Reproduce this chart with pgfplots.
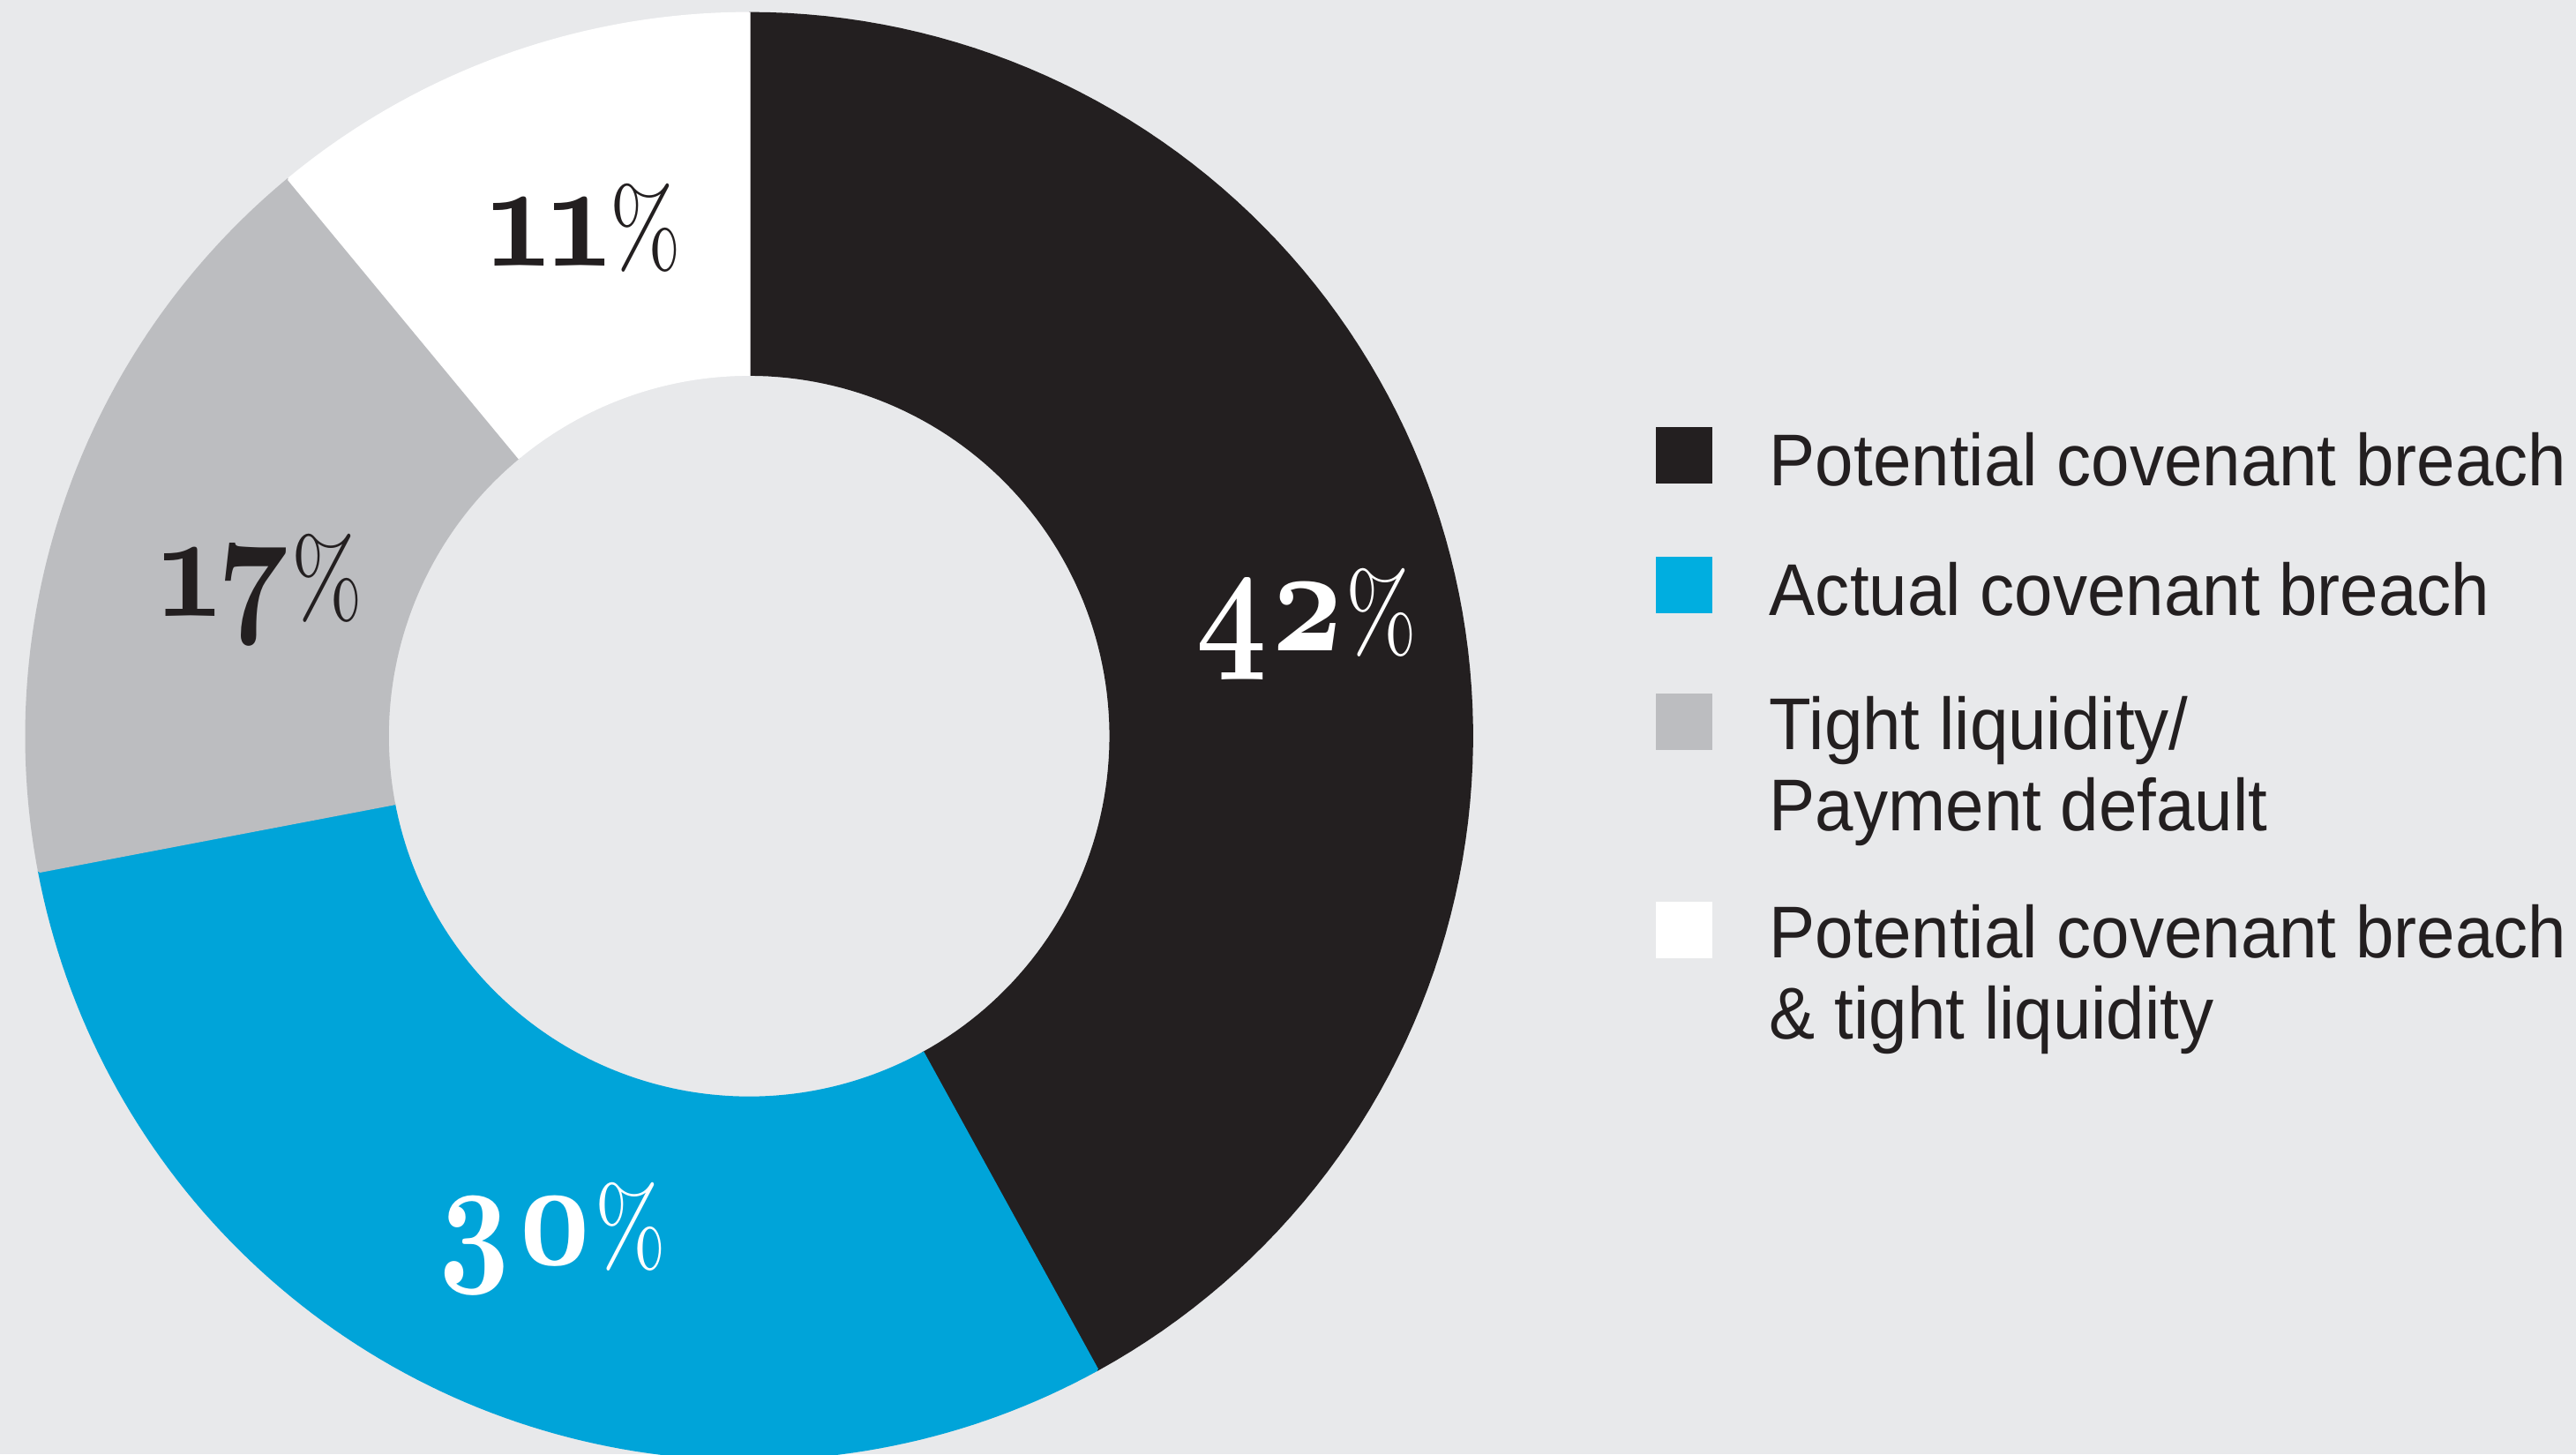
\documentclass[border=0pt]{standalone}
\usepackage{fontspec}
\setsansfont{Liberation Sans}[FakeStretch=0.94]
\newfontfamily\numfont{lmroman10-bold.otf}[Numbers=OldStyle, FakeStretch=0.82]
\newfontfamily\pctfont{lmroman10-regular.otf}[FakeStretch=0.78]
\usepackage{pgfplots}
\pgfplotsset{compat=1.18}

\definecolor{bg}{HTML}{E8E9EB}
\definecolor{ink}{HTML}{231F20}
\definecolor{cblue}{HTML}{00A4D9}
\definecolor{lblue}{HTML}{00AEE0}
\definecolor{cgray}{HTML}{BCBDC0}

% one ring segment: colour, share before it, share (per cent, clockwise from 12 o'clock)
\newcommand\ring[3]{%
  \pgfmathsetmacro\aS{90-3.6*#2}%
  \pgfmathsetmacro\aE{90-3.6*(#2+#3)}%
  \addplot[fill=#1, draw=#1, line width=0.4pt, samples at={0,1,...,202}, variable=\t, forget plot]
    ({456 + ((\t<101 || \t>201) ? 440 : 220)*cos((\t<101) ? (\aS+(\aE-\aS)*\t/100) : ((\t>201) ? \aS : (\aE-(\aE-\aS)*(\t-101)/100)))},
     {437 + ((\t<101 || \t>201) ? 440 : 220)*sin((\t<101) ? (\aS+(\aE-\aS)*\t/100) : ((\t>201) ? \aS : (\aE-(\aE-\aS)*(\t-101)/100)))});
}
\newcommand\pct[2]{{\numfont\fontsize{26}{26}\selectfont #1}{\pctfont\fontsize{19}{19}\selectfont #2}}

\begin{document}
\begin{tikzpicture}
\begin{axis}[
  width=15.68cm, height=8.85cm, scale only axis,
  xmin=0, xmax=1568, ymin=0, ymax=885,
  axis line style={draw=none}, ticks=none,
  axis background/.style={fill=bg},
  legend style={at={(axis cs:1007,626)}, anchor=north west, draw=none, fill=none,
    inner sep=0pt, row sep=0.38cm, column sep=0.35cm, text=ink,
    font={\sffamily\fontsize{12.7pt}{13.1pt}\selectfont},
    cells={anchor=west, align=left}, nodes={inner sep=0pt}},
]
\ring{ink}{0}{42}
\ring{cblue}{42}{30}
\ring{cgray}{72}{17}
\ring{white}{89}{11}

\addlegendimage{legend image code/.code={\fill[ink] (0cm,-0.115cm) rectangle (0.33cm,0.215cm);}}
\addlegendentry{\strut Potential covenant breach}
\addlegendimage{legend image code/.code={\fill[lblue] (0cm,-0.115cm) rectangle (0.33cm,0.215cm);}}
\addlegendentry{\strut Actual covenant breach}
\addlegendimage{legend image code/.code={\fill[cgray] (0cm,0.084cm) rectangle (0.33cm,0.414cm);}}
\addlegendentry{\rule{0pt}{0.383cm}\strut Tight liquidity/\\\strut Payment default}
\addlegendimage{legend image code/.code={\fill[white] (0cm,0.115cm) rectangle (0.33cm,0.445cm);}}
\addlegendentry{\strut Potential covenant breach\\\strut \& tight liquidity}

\node[anchor=base, text=white] at (axis cs:795,489) {\pct{42}{\%}};
\node[anchor=base, text=white] at (axis cs:335,115) {\pct{30}{\%}};
\node[anchor=base, text=ink] at (axis cs:159,510) {\pct{17}{\%}};
\node[anchor=base, text=ink] at (axis cs:356,723) {\pct{11}{\%}};
\end{axis}
\end{tikzpicture}
\end{document}
